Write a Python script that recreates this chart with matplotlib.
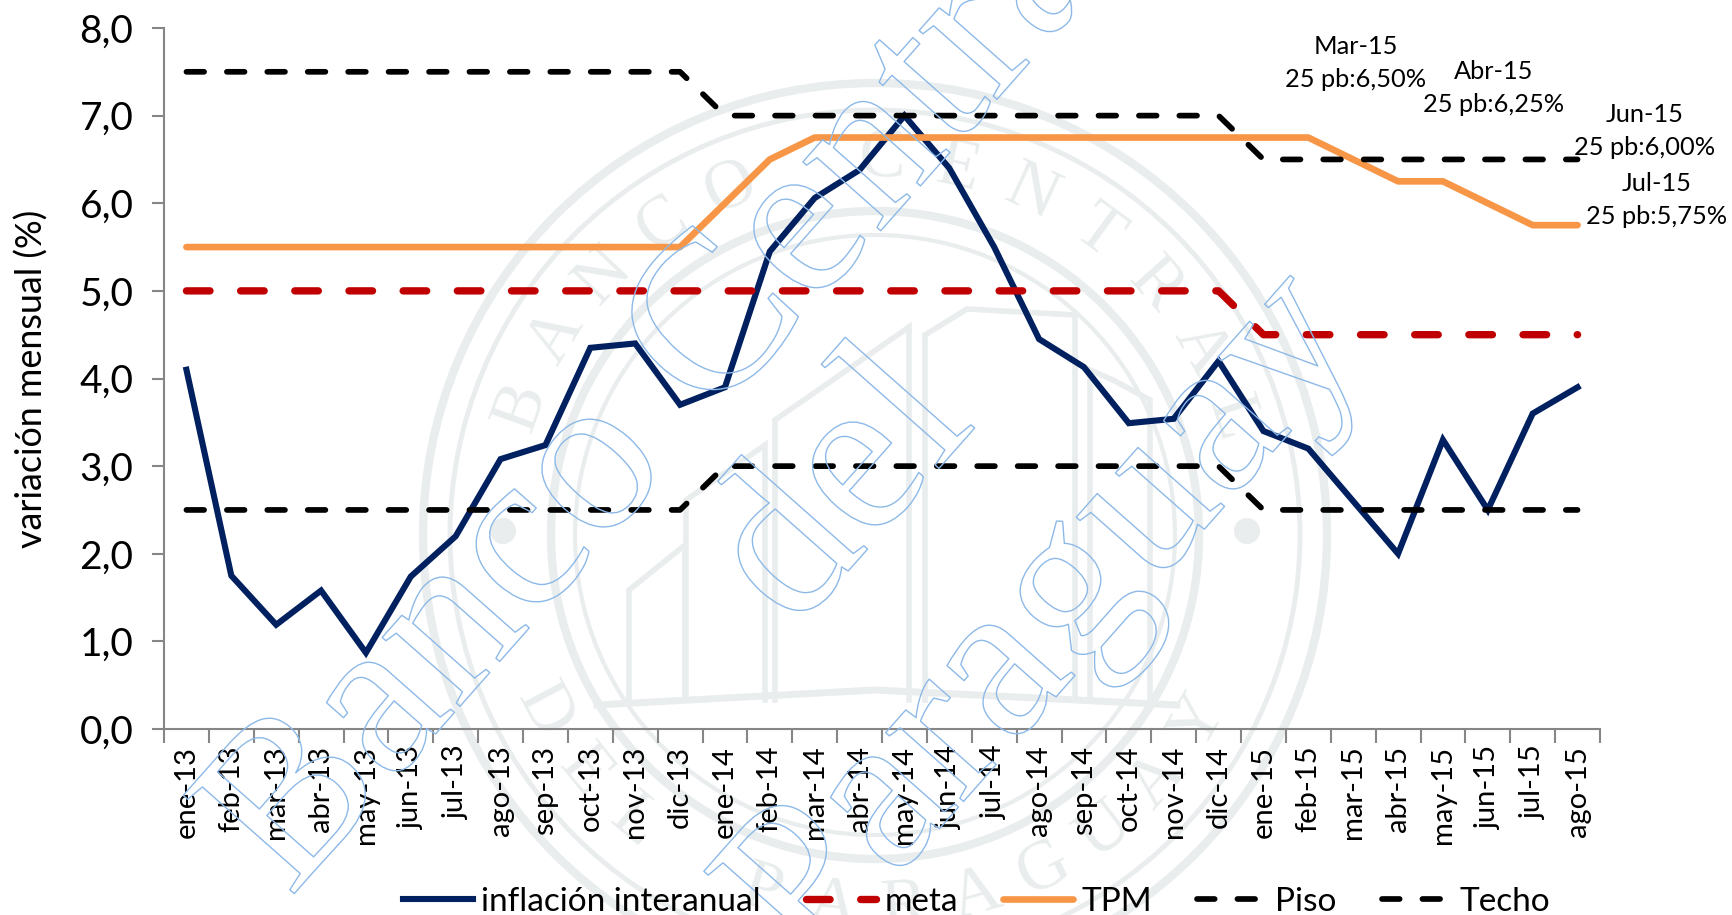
import numpy as np
import matplotlib
matplotlib.use("Agg")
import matplotlib.pyplot as plt
import matplotlib.patheffects as pe
from matplotlib.patches import Circle

plt.rcParams['font.family'] = ['Lato', 'DejaVu Sans']

meses = ["ene-13", "feb-13", "mar-13", "abr-13", "may-13", "jun-13", "jul-13", "ago-13",
         "sep-13", "oct-13", "nov-13", "dic-13", "ene-14", "feb-14", "mar-14", "abr-14",
         "may-14", "jun-14", "jul-14", "ago-14", "sep-14", "oct-14", "nov-14", "dic-14",
         "ene-15", "feb-15", "mar-15", "abr-15", "may-15", "jun-15", "jul-15", "ago-15"]
inflacion = [4.1, 1.75, 1.19, 1.58, 0.87, 1.74, 2.2, 3.08, 3.24, 4.35, 4.4, 3.7, 3.9, 5.45, 6.06, 6.38,
             7.0, 6.4, 5.5, 4.45, 4.13, 3.49, 3.54, 4.2, 3.4, 3.2, 2.6, 2.0, 3.3, 2.5, 3.6, 3.9]
meta = [5.0] * 24 + [4.5] * 8
tpm = [5.5] * 12 + [6.0, 6.5] + [6.75] * 12 + [6.5, 6.25, 6.25, 6.0, 5.75, 5.75]
piso = [2.5] * 12 + [3.0] * 12 + [2.5] * 8
techo = [7.5] * 12 + [7.0] * 12 + [6.5] * 8
yticks = [0, 1, 2, 3, 4, 5, 6, 7, 8]
notas = ["Mar-15\n25 pb:6,50%", "Abr-15\n25 pb:6,25%", "Jun-15\n25 pb:6,00%", "Jul-15\n25 pb:5,75%"]

W, H = 1732, 915
fig = plt.figure(figsize=(W / 100, H / 100), dpi=100, facecolor='white')

# sello de fondo, en pixeles de la imagen
bg = fig.add_axes([0, 0, 1, 1], zorder=0)
bg.set_xlim(0, W)
bg.set_ylim(H, 0)
bg.axis('off')
sello = '#e9eded'
cx, cy = 875, 535
for r, lw in [(452, 6), (425, 3.5), (324, 6), (300, 3)]:
    bg.add_patch(Circle((cx, cy), r, fill=False, ec=sello, lw=lw))
bg.add_patch(Circle((1247, 531), 13, fc=sello, ec='none'))
bg.add_patch(Circle((503, 531), 13, fc=sello, ec='none'))
torres = [[(629, 700), (629, 590), (685, 545), (685, 700)],
          [(686, 700), (686, 500), (765, 445), (765, 700)],
          [(775, 700), (775, 420), (909, 327), (909, 700)],
          [(925, 700), (925, 335), (967, 309), (1075, 315), (1075, 700)],
          [(1090, 700), (1090, 370), (1113, 380), (1150, 400), (1150, 700)]]
for t in torres:
    bg.plot([p[0] for p in t], [p[1] for p in t], color=sello, lw=4, solid_joinstyle='miter')
bg.plot([597, 875, 1177], [705, 690, 705], color=sello, lw=5)
for txt, a0, a1 in [("BANCO CENTRAL", -160, -18), ("DEL PARAGUAY", 152, 30)]:
    for ch, a in zip(txt, np.linspace(a0, a1, len(txt))):
        ang = np.deg2rad(a)
        rot = -a - 90 if a < 0 else 90 - a
        bg.text(cx + 375 * np.cos(ang), cy + 375 * np.sin(ang), ch, fontsize=50, color=sello,
                family='Liberation Serif', rotation=rot, ha='center', va='center', rotation_mode='anchor')

ax = fig.add_axes([164 / W, 1 - 729 / H, (1600 - 164) / W, (729 - 28) / H], zorder=2)
ax.patch.set_alpha(0)

x = np.arange(len(meses))
guion_negro = (0, (3.1, 4.0))
guion_rojo = (0, (3.2, 4.16))
l1, = ax.plot(x, inflacion, color='#002060', lw=4.4, solid_joinstyle='miter', label='inflación interanual')
l2, = ax.plot(x, meta, color='#c00000', lw=5.3, ls=guion_rojo, dash_capstyle='round', label='meta')
l3, = ax.plot(x, tpm, color='#f79646', lw=4.8, solid_capstyle='round', label='TPM')
l4, = ax.plot(x, piso, color='black', lw=4.1, ls=guion_negro, dash_capstyle='round', label='Piso')
l5, = ax.plot(x, techo, color='black', lw=4.1, ls=guion_negro, dash_capstyle='round', label='Techo')

ax.set_xlim(-0.5, len(meses) - 0.5)
ax.set_ylim(0, 8)
ax.set_yticks(yticks)
ax.set_yticklabels(["%d,0" % v for v in yticks], fontsize=28)
ax.set_xticks(np.arange(len(meses) + 1) - 0.5)
ax.set_xticklabels([])
ax.set_xticks(x, minor=True)
ax.set_xticklabels(meses, minor=True, rotation=90, fontsize=21)
ax.tick_params(axis='x', which='major', length=10, width=1.5, color='#868686')
ax.tick_params(axis='x', which='minor', length=0, pad=12)
ax.tick_params(axis='y', length=9, width=1.5, color='#868686', pad=13)
ax.spines['top'].set_visible(False)
ax.spines['right'].set_visible(False)
ax.spines['left'].set_color('#868686')
ax.spines['bottom'].set_color('#868686')
ax.spines['left'].set_linewidth(1.5)
ax.spines['bottom'].set_linewidth(1.5)
ax.set_ylabel("variación mensual (%)", fontsize=25.8, labelpad=22)

# etiquetas de la TPM
for nota, px, py in zip(notas, [1356, 1494, 1645, 1657], [63, 88, 131, 200]):
    fig.text(px / W, 1 - py / H, nota, fontsize=18.3, ha='center', va='center', linespacing=1.5, color='black')

fig.legend(handles=[l1, l2, l3, l4, l5], loc='lower center', bbox_to_anchor=(0.564, -0.035), ncol=5, frameon=False,
           fontsize=24, handlelength=2.1, handletextpad=0.25, columnspacing=1.35)

# marca de agua en contorno, por encima de todo
top = fig.add_axes([0, 0, 1, 1], zorder=5)
top.set_xlim(0, W)
top.set_ylim(H, 0)
top.axis('off')
contorno = [pe.Stroke(linewidth=1.0, foreground='#8db9e8')]
for txt, px, py in [("Banco Central", 680, 375), ("del", 845, 492), ("Paraguay", 1049, 623)]:
    top.text(px, py, txt, fontsize=163, color=(1, 1, 1, 0), family='Liberation Serif', rotation=48.5, ha='center',
             va='center', rotation_mode='anchor', path_effects=contorno)

fig.savefig("out.png", dpi=100)
